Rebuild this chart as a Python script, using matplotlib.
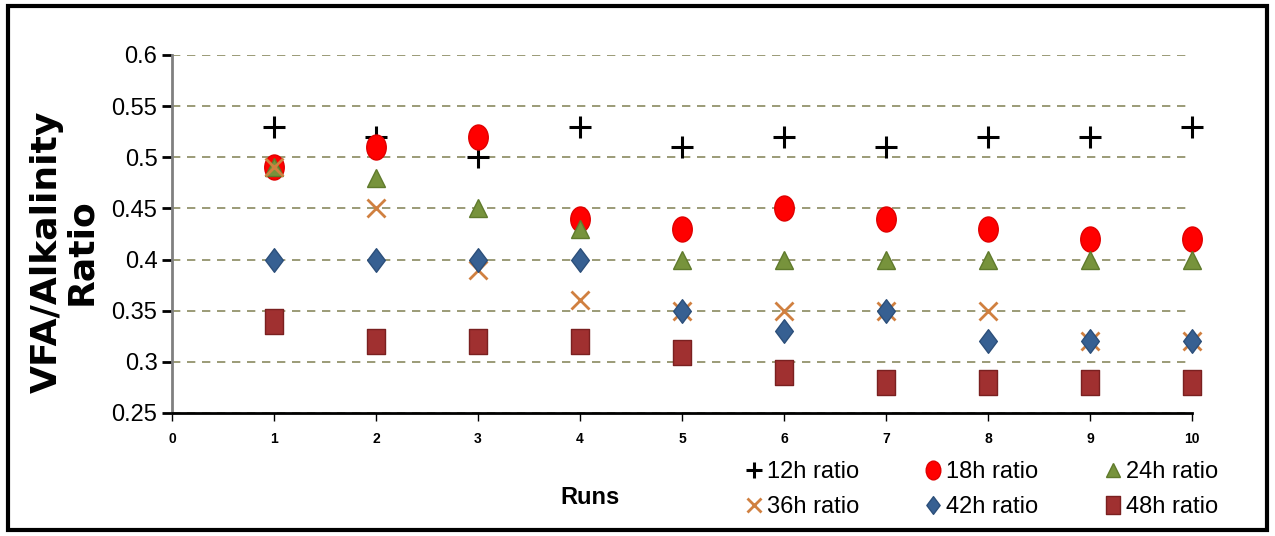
import matplotlib
matplotlib.use('Agg')
import matplotlib.pyplot as plt
from matplotlib.path import Path
from matplotlib.patches import Rectangle
import numpy as np

runs = [1, 2, 3, 4, 5, 6, 7, 8, 9, 10]
ratio_12h = [0.53, 0.52, 0.50, 0.53, 0.51, 0.52, 0.51, 0.52, 0.52, 0.53]
ratio_18h = [0.49, 0.51, 0.52, 0.44, 0.43, 0.45, 0.44, 0.43, 0.42, 0.42]
ratio_24h = [0.49, 0.48, 0.45, 0.43, 0.40, 0.40, 0.40, 0.40, 0.40, 0.40]
ratio_36h = [0.49, 0.45, 0.39, 0.36, 0.35, 0.35, 0.35, 0.35, 0.32, 0.32]
ratio_42h = [0.40, 0.40, 0.40, 0.40, 0.35, 0.33, 0.35, 0.32, 0.32, 0.32]
ratio_48h = [0.34, 0.32, 0.32, 0.32, 0.31, 0.29, 0.28, 0.28, 0.28, 0.28]
y_ticks = [0.25, 0.3, 0.35, 0.4, 0.45, 0.5, 0.55, 0.6]
y_tick_labels = ['0.25', '0.3', '0.35', '0.4', '0.45', '0.5', '0.55', '0.6']
x_ticks = [0, 1, 2, 3, 4, 5, 6, 7, 8, 9, 10]

plt.rcParams['font.family'] = ['Liberation Sans', 'DejaVu Sans']

# custom marker shapes: tall ellipse, tall rectangle, diamond
circ = Path.unit_circle()
ellipse = Path(circ.vertices * np.array([0.78, 1.0]), circ.codes)
rect = Path([(-0.7, -1), (0.7, -1), (0.7, 1), (-0.7, 1), (-0.7, -1)],
            [Path.MOVETO, Path.LINETO, Path.LINETO, Path.LINETO, Path.CLOSEPOLY])
diamond = Path([(0, -1), (0.75, 0), (0, 1), (-0.75, 0), (0, -1)],
               [Path.MOVETO, Path.LINETO, Path.LINETO, Path.LINETO, Path.CLOSEPOLY])

fig = plt.figure(figsize=(12.75, 5.36), dpi=100)
ax = fig.add_axes([0.1349, 0.2295, 0.8, 0.668])

series = [
    (ratio_12h, '12h ratio', dict(marker='+', color='black', ms=16, mew=2.2)),
    (ratio_18h, '18h ratio', dict(marker=ellipse, color='#FF0000', mec='#E00000', ms=18)),
    (ratio_24h, '24h ratio', dict(marker='^', color='#77933C', mec='#5f7a2c', ms=13)),
    (ratio_36h, '36h ratio', dict(marker='x', color='#D08040', ms=13, mew=2)),
    (ratio_42h, '42h ratio', dict(marker=diamond, color='#376092', mec='#2c4f7a', ms=17)),
    (ratio_48h, '48h ratio', dict(marker=rect, color='#A03030', mec='#7a2020', ms=18)),
]
handles = []
for vals, lab, st in series:
    h, = ax.plot(runs, vals, linestyle='none', label=lab, clip_on=False, **st)
    handles.append(h)

ax.set_xlim(0, 10)
ax.set_ylim(0.25, 0.6)
ax.set_yticks(y_ticks)
ax.set_yticklabels(y_tick_labels, fontsize=17)
ax.set_xticks(x_ticks)
ax.set_xticklabels([str(t) for t in x_ticks], fontsize=10, fontweight='bold')
ax.yaxis.grid(True, linestyle=(0, (5, 4)), color='#8a8a60', linewidth=1.2)
ax.set_axisbelow(True)
for s in ['top', 'right']:
    ax.spines[s].set_visible(False)
ax.spines['left'].set_color('#808080')
ax.spines['left'].set_linewidth(2)
ax.spines['bottom'].set_color('black')
ax.spines['bottom'].set_linewidth(2)
ax.tick_params(axis='y', direction='out', length=7, width=2, color='black')
ax.tick_params(axis='x', direction='out', length=6, width=1, color='black', pad=8)

fig.text(0.050, 0.53, 'VFA/Alkalinity\nRatio', rotation=90, ha='center', va='center',
         fontsize=26, fontweight='bold', family='DejaVu Sans', linespacing=1.0)
fig.text(0.463, 0.072, 'Runs', ha='center', va='center', fontsize=17, fontweight='bold')

order = [0, 3, 1, 4, 2, 5]
fig.legend([handles[i] for i in order], [handles[i].get_label() for i in order],
           ncol=3, loc='center left', bbox_to_anchor=(0.569, 0.0868), frameon=False,
           fontsize=17, handlelength=0.6, handletextpad=0.25, columnspacing=2.85,
           labelspacing=0.55, markerscale=0.75)

fig.add_artist(Rectangle((0.006, 0.012), 0.988, 0.976, transform=fig.transFigure,
                         fill=False, edgecolor='black', linewidth=3))

fig.savefig('out.png', dpi=100)
